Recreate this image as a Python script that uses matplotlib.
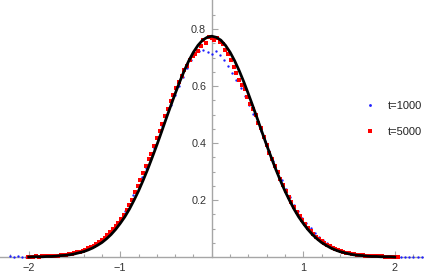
import numpy as np
import matplotlib.pyplot as plt

# ============================================================================
# DATA
# ============================================================================
# theory curve, right half from x=0 to x=2 in steps of 0.05 (curve is symmetric)
CURVE_STEP = 0.05
curve_half = [0.775, 0.771, 0.761, 0.743, 0.719, 0.689, 0.654, 0.615, 0.573, 0.529,
              0.484, 0.438, 0.393, 0.350, 0.308, 0.269, 0.232, 0.199, 0.168, 0.141,
              0.118, 0.097, 0.079, 0.064, 0.051, 0.041, 0.032, 0.025, 0.019, 0.015,
              0.011, 0.008, 0.006, 0.005, 0.003, 0.002, 0.002, 0.001, 0.001, 0.001,
              0.000]

# t=1000 histogram, bins start at x=-2.205, width 0.045
T1000_START, T1000_STEP = -2.205, 0.045
t1000 = [0.002, 0.001, 0.002, 0.001, 0.001, 0.001, 0.002, 0.002, 0.003, 0.003,
         0.004, 0.005, 0.006, 0.008, 0.010, 0.013, 0.016, 0.020, 0.025, 0.031,
         0.038, 0.046, 0.055, 0.066, 0.083, 0.099, 0.117, 0.137, 0.160, 0.185,
         0.218, 0.248, 0.280, 0.314, 0.348, 0.384, 0.422, 0.460, 0.498, 0.534,
         0.568, 0.600, 0.633, 0.664, 0.690, 0.712, 0.722, 0.725, 0.720,
         0.714,
         0.722, 0.708, 0.690, 0.670, 0.646, 0.622, 0.594, 0.564, 0.534, 0.503,
         0.474, 0.443, 0.408, 0.372, 0.336, 0.302, 0.270, 0.240, 0.211, 0.184,
         0.160, 0.138, 0.118, 0.101, 0.085, 0.071, 0.059, 0.049, 0.040, 0.032,
         0.026, 0.021, 0.016, 0.013, 0.010, 0.008, 0.006, 0.004, 0.003, 0.003,
         0.002, 0.002, 0.001, 0.001, 0.001, 0.001, 0.001, 0.001, 0.001, 0.001,
         0.001]

# t=5000 histogram, bins start at x=-2.01, width 0.03
T5000_START, T5000_STEP = -2.01, 0.03
t5000 = [0.001, 0.001, 0.001, 0.002, 0.001, 0.002, 0.002, 0.003, 0.003, 0.004,
         0.004, 0.005, 0.006, 0.007, 0.008, 0.010, 0.011, 0.014, 0.016, 0.019,
         0.022, 0.025, 0.030, 0.034, 0.040, 0.046, 0.052, 0.060, 0.068, 0.077,
         0.087, 0.098, 0.109, 0.121, 0.135, 0.149, 0.165, 0.182, 0.200, 0.228,
         0.250, 0.272, 0.296, 0.318, 0.343, 0.362, 0.390, 0.416, 0.444, 0.468,
         0.494, 0.518, 0.546, 0.568, 0.594, 0.614, 0.636, 0.658, 0.672, 0.690,
         0.706, 0.714, 0.722, 0.741, 0.761, 0.752, 0.772,
         0.768,
         0.762, 0.770, 0.755, 0.748, 0.728, 0.712, 0.690, 0.668, 0.645, 0.622,
         0.602, 0.588, 0.562, 0.536, 0.520, 0.497, 0.472, 0.452, 0.421, 0.393,
         0.364, 0.343, 0.320, 0.300, 0.274, 0.252, 0.232, 0.212, 0.193, 0.176,
         0.159, 0.144, 0.129, 0.116, 0.103, 0.092, 0.081, 0.072, 0.063, 0.056,
         0.049, 0.043, 0.037, 0.032, 0.028, 0.024, 0.021, 0.018, 0.015, 0.013,
         0.011, 0.009, 0.008, 0.007, 0.006, 0.005, 0.004, 0.003, 0.003, 0.002,
         0.002, 0.002, 0.001, 0.001, 0.001, 0.001, 0.001, 0.001]

x_ticks = [-2, -1, 1, 2]
x_ticklabels = ['\u22122', '\u22121', '1', '2']
y_ticks = [0.2, 0.4, 0.6, 0.8]
y_ticklabels = ['0.2', '0.4', '0.6', '0.8']

# ============================================================================
# PLOT
# ============================================================================
plt.rcParams['font.family'] = ['Liberation Sans', 'DejaVu Sans']

curve_y = np.array(curve_half[:0:-1] + curve_half)
curve_x = CURVE_STEP * np.arange(-(len(curve_half) - 1), len(curve_half))
x1000 = T1000_START + T1000_STEP * np.arange(len(t1000))
x5000 = T5000_START + T5000_STEP * np.arange(len(t5000))

fig = plt.figure(figsize=(4.24, 2.73), dpi=100)
ax = fig.add_axes([0, 0, 1, 1])

axis_gray = '#a6a6a6'
ax.plot(x1000, t1000, 'o', color='#1f1fff', markersize=1.7, markeredgewidth=0,
        label='t=1000', zorder=3)
ax.plot(x5000, t5000, 's', color='#ff0000', markersize=2.9, markeredgewidth=0,
        label='t=5000', zorder=4)
ax.plot(curve_x, curve_y, '-', color='black', linewidth=2.0, zorder=5)

ax.set_xlim(-2.314, 2.320)
ax.set_ylim(-0.056, 0.902)

for side in ['top', 'right']:
    ax.spines[side].set_visible(False)
ax.spines['left'].set_position(('data', 0))
ax.spines['bottom'].set_position(('data', 0))
ax.spines['left'].set_bounds(0, 0.902)
for side in ['left', 'bottom']:
    ax.spines[side].set_color(axis_gray)
    ax.spines[side].set_linewidth(1.0)
    ax.spines[side].set_zorder(2)

ax.set_xticks(x_ticks)
ax.set_xticklabels(x_ticklabels)
ax.set_xticks(np.arange(-2.2, 2.3, 0.2), minor=True)
ax.set_yticks(y_ticks)
ax.set_yticklabels(y_ticklabels)
ax.set_yticks(np.arange(0.05, 0.9, 0.05), minor=True)

ax.tick_params(which='both', direction='in', color=axis_gray, width=0.8,
               labelsize=7.8, labelcolor='#333333')
ax.tick_params(which='major', length=4)
ax.tick_params(which='minor', length=2)
ax.tick_params(axis='x', pad=4)
ax.tick_params(axis='y', pad=4)

ax.legend(loc='upper left', bbox_to_anchor=(0.847, 0.652), frameon=False,
          fontsize=8, borderpad=0, handlelength=1.0, handletextpad=1.1,
          labelspacing=1.5, markerscale=1.2, labelcolor='#222222')

fig.savefig('out.png', dpi=100)
